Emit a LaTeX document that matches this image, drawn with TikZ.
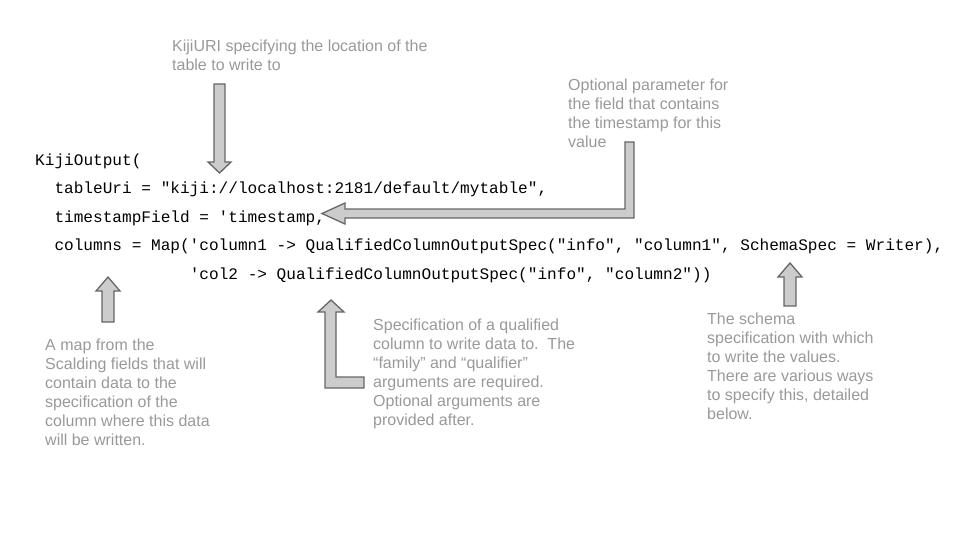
\documentclass[tikz,border=0pt]{standalone}
\usepackage{fontspec}
\setmainfont{Liberation Sans}
\setmonofont{Liberation Mono}
\definecolor{notegray}{HTML}{999999}
\definecolor{arrowfill}{HTML}{CCCCCC}
\definecolor{arrowedge}{HTML}{666666}
\tikzset{
  code/.style={anchor=base west, inner sep=0pt, font=\ttfamily\fontsize{16.1}{19}\selectfont},
  note/.style={anchor=north west, inner sep=0pt, align=left, text=notegray, font=\fontsize{16}{19}\selectfont},
  blockarrow/.style={fill=arrowfill, draw=arrowedge, line width=1.3pt, line join=miter},
}
\begin{document}
\begin{tikzpicture}[x=1pt, y=-1pt]
  \useasboundingbox (0,0) rectangle (960,540);
  % code lines
  \node[code] (open)    at (35,165)    {KijiOutput(};
  \node[code] (uri)     at (54.3,193.5) {tableUri = "kiji://localhost:2181/default/mytable",};
  \node[code] (stamp)   at (54.3,222)  {timestampField = 'timestamp,};
  \node[code] (cols)    at (54.3,250.5) {columns = Map('column1 -> QualifiedColumnOutputSpec("info", "column1", SchemaSpec = Writer),};
  \node[code] (col2)    at (189.6,279)  {'col2 -> QualifiedColumnOutputSpec("info", "column2"))};
  % notes
  \node[note] (uriNote)    at (172,37.7)  {\strut KijiURI specifying the location of the\\table to write to};
  \node[note] (stampNote)  at (568,76.7)  {\strut Optional parameter for\\the field that contains\\the timestamp for this\\value};
  \node[note] (mapNote)    at (45,336.7)  {\strut A map from the\\Scalding fields that will\\contain data to the\\specification of the\\column where this data\\will be written.};
  \node[note] (specNote)   at (373,316.7) {\strut Specification of a qualified\\column to write data to.\ \ The\\“family” and “qualifier”\\arguments are required.\\Optional arguments are\\provided after.};
  \node[note] (schemaNote) at (707,310.7) {\strut The schema\\specification with which\\to write the values.\\There are various ways\\to specify this, detailed\\below.};
  % block arrows, drawn from their tips
  \coordinate (uriTip)    at (219.5,173);
  \coordinate (stampTip)  at (322,213.5);
  \coordinate (mapTip)    at (108,277);
  \coordinate (specTip)   at (331,300);
  \coordinate (schemaTip) at (790,263);
  \draw[blockarrow] (uriTip) -- ++(11.5,-11) -- ++(-6,0) -- ++(0,-78) -- ++(-11,0) -- ++(0,78) -- ++(-6,0) -- cycle;
  \draw[blockarrow] (stampTip) -- ++(23,-10.5) -- ++(0,6) -- ++(280,0) -- ++(0,-67) -- ++(9,0) -- ++(0,76) -- ++(-289,0) -- ++(0,6) -- cycle;
  \draw[blockarrow] (mapTip) -- ++(12,14) -- ++(-6,0) -- ++(0,31) -- ++(-12,0) -- ++(0,-31) -- ++(-6,0) -- cycle;
  \draw[blockarrow] (specTip) -- ++(13,12) -- ++(-8,0) -- ++(0,65) -- ++(28,0) -- ++(0,11) -- ++(-39,0) -- ++(0,-76) -- ++(-7,0) -- cycle;
  \draw[blockarrow] (schemaTip) -- ++(12,14) -- ++(-6,0) -- ++(0,29) -- ++(-12,0) -- ++(0,-29) -- ++(-6,0) -- cycle;
\end{tikzpicture}
\end{document}
